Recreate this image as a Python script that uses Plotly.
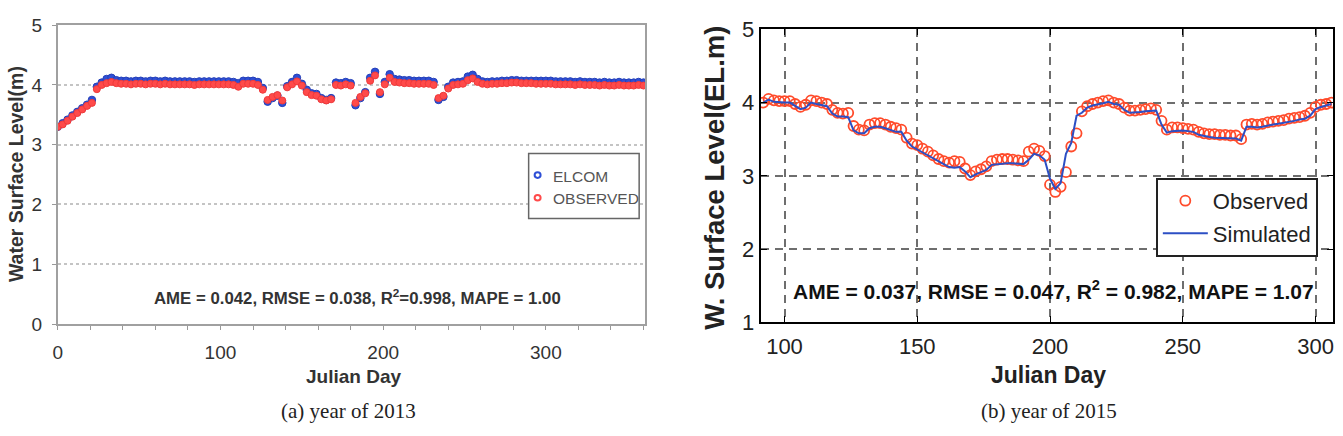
import plotly.graph_objects as go

# ---------------- data: (a) 2013 ----------------
days_2013 = list(range(0, 361, 3))
elcom_2013 = [
    3.30, 3.36, 3.42, 3.49, 3.55, 3.61, 3.67, 3.75, 3.97, 4.04,
    4.10, 4.12, 4.08, 4.07, 4.07, 4.06, 4.07, 4.07, 4.06, 4.07,
    4.07, 4.06, 4.07, 4.06, 4.06, 4.06, 4.06, 4.06, 4.05, 4.06,
    4.06, 4.06, 4.06, 4.06, 4.06, 4.06, 4.05, 4.03, 4.07, 4.07,
    4.07, 4.05, 3.95, 3.72, 3.78, 3.82, 3.70, 3.98, 4.05, 4.12,
    4.02, 3.92, 3.86, 3.85, 3.78, 3.75, 3.78, 4.04, 4.03, 4.05,
    4.03, 3.66, 3.78, 3.88, 4.12, 4.22, 3.85, 4.05, 4.18, 4.10,
    4.09, 4.08, 4.08, 4.07, 4.07, 4.07, 4.07, 4.05, 3.75, 3.80,
    3.97, 4.04, 4.05, 4.06, 4.14, 4.17, 4.10, 4.06, 4.05, 4.06,
    4.06, 4.07, 4.07, 4.08, 4.08, 4.07, 4.07, 4.07, 4.07, 4.07,
    4.07, 4.07, 4.06, 4.06, 4.06, 4.06, 4.05, 4.06, 4.05, 4.05,
    4.05, 4.04, 4.05, 4.04, 4.04, 4.05, 4.04, 4.04, 4.04, 4.05,
    4.04,
]
observed_2013 = [
    3.30, 3.34, 3.40, 3.47, 3.53, 3.59, 3.65, 3.70, 3.93, 4.00,
    4.03, 4.05, 4.03, 4.02, 4.02, 4.01, 4.02, 4.02, 4.01, 4.02,
    4.02, 4.01, 4.02, 4.01, 4.01, 4.01, 4.01, 4.01, 4.00, 4.01,
    4.01, 4.01, 4.01, 4.01, 4.01, 4.01, 4.00, 3.97, 4.02, 4.02,
    4.02, 4.00, 3.92, 3.75, 3.80, 3.83, 3.74, 3.96, 4.01, 4.06,
    3.99, 3.88, 3.83, 3.82, 3.76, 3.74, 3.76, 4.00, 3.99, 4.01,
    3.99, 3.70, 3.80, 3.86, 4.07, 4.16, 3.88, 4.01, 4.12, 4.05,
    4.04, 4.03, 4.03, 4.02, 4.02, 4.02, 4.02, 4.00, 3.78, 3.82,
    3.94, 4.00, 4.01, 4.02, 4.08, 4.11, 4.05, 4.02, 4.01, 4.02,
    4.02, 4.03, 4.03, 4.04, 4.04, 4.03, 4.03, 4.03, 4.02, 4.02,
    4.02, 4.02, 4.01, 4.01, 4.01, 4.01, 4.00, 4.01, 4.00, 4.00,
    4.00, 3.99, 4.00, 3.99, 3.99, 4.00, 3.99, 3.99, 3.99, 4.00,
    3.99,
]

# ---------------- data: (b) 2015 ----------------
days_2015 = list(range(92, 307, 2))
simulated_2015 = [
    4.00, 4.04, 4.01, 4.00, 4.00, 4.00, 3.95, 3.91, 3.93, 4.00,
    3.98, 3.96, 3.95, 3.85, 3.81, 3.81, 3.80, 3.62, 3.58, 3.58,
    3.65, 3.67, 3.67, 3.65, 3.62, 3.60, 3.60, 3.48, 3.40, 3.36,
    3.32, 3.28, 3.23, 3.19, 3.15, 3.12, 3.11, 3.12, 3.06, 2.98,
    3.02, 3.05, 3.08, 3.15, 3.16, 3.17, 3.17, 3.17, 3.17, 3.16,
    3.22, 3.30, 3.28, 3.22, 2.96, 2.82, 2.90, 3.30, 3.45, 3.82,
    3.86, 3.93, 3.96, 3.97, 3.99, 4.01, 3.98, 3.97, 3.90, 3.86,
    3.86, 3.87, 3.88, 3.89, 3.89, 3.70, 3.59, 3.61, 3.62, 3.62,
    3.61, 3.60, 3.56, 3.54, 3.53, 3.52, 3.52, 3.52, 3.52, 3.51,
    3.48, 3.67, 3.67, 3.66, 3.67, 3.69, 3.70, 3.71, 3.72, 3.74,
    3.75, 3.77, 3.78, 3.82, 3.91, 3.94, 3.96, 3.98,
]
observed_2015 = [
    4.00, 4.05, 4.03, 4.02, 4.02, 4.02, 3.98, 3.94, 3.97, 4.03,
    4.02, 4.00, 3.98, 3.90, 3.86, 3.85, 3.86, 3.68, 3.63, 3.62,
    3.70, 3.72, 3.72, 3.70, 3.67, 3.65, 3.63, 3.52, 3.44, 3.42,
    3.37, 3.33, 3.28, 3.23, 3.20, 3.18, 3.20, 3.19, 3.10, 3.01,
    3.06, 3.09, 3.13, 3.20, 3.22, 3.23, 3.23, 3.22, 3.21, 3.20,
    3.33, 3.37, 3.34, 3.27, 2.88, 2.78, 2.85, 3.05, 3.40, 3.58,
    3.88, 3.95, 3.98, 4.00, 4.02, 4.03, 4.00, 3.98, 3.93, 3.89,
    3.89, 3.90, 3.91, 3.92, 3.90, 3.75, 3.63, 3.66, 3.66, 3.65,
    3.64, 3.63, 3.60, 3.58, 3.57, 3.57, 3.56, 3.56, 3.55, 3.55,
    3.50, 3.70, 3.71, 3.70, 3.71, 3.73, 3.74, 3.75, 3.76, 3.78,
    3.79, 3.80, 3.82, 3.86, 3.94, 3.97, 3.98, 4.00,
]

W, H = 1343, 436
def px(x):
    return x / W
def py(y):
    return (H - y) / H

SANS = "Liberation Sans, Arial, sans-serif"
SERIF = "Liberation Serif, Times New Roman, serif"
BLUE_A = "#2e4fd6"
RED_A = "#ff4a4a"

fig = go.Figure()

# (a) traces
fig.add_trace(go.Scatter(
    x=days_2013, y=elcom_2013, mode="markers", name="ELCOM", showlegend=False,
    marker=dict(symbol="circle", size=7.5, color=BLUE_A, line=dict(width=1, color="#2540b8")),
    xaxis="x", yaxis="y",
))
fig.add_trace(go.Scatter(
    x=days_2013, y=observed_2013, mode="markers", name="OBSERVED", showlegend=False,
    marker=dict(symbol="circle", size=7, color=RED_A, line=dict(width=1, color="#f03a3a")),
    xaxis="x", yaxis="y",
))

# (b) traces
fig.add_trace(go.Scatter(
    x=days_2015, y=observed_2015, mode="markers", name="Observed",
    marker=dict(symbol="circle-open", size=10, color="#ff4b2b", line=dict(width=1.8, color="#ff4b2b")),
    xaxis="x2", yaxis="y2", legend="legend2", legendgroup="c",
))
fig.add_trace(go.Scatter(
    x=days_2015, y=simulated_2015, mode="lines", name="Simulated",
    line=dict(color="#2c4fc4", width=2),
    xaxis="x2", yaxis="y2", legend="legend2", legendgroup="d",
))

fig.update_layout(
    width=W, height=H,
    margin=dict(l=0, r=0, t=0, b=0),
    paper_bgcolor="white", plot_bgcolor="white",
    xaxis=dict(
        domain=[px(53), px(643)], range=[0, 361], anchor="y",
        tickvals=[0, 100, 200, 300], ticks="outside", ticklen=4, tickcolor="#999",
        minor=dict(dtick=20, ticks="outside", ticklen=4, tickcolor="#999"),
        showline=True, linecolor="#a0a0a0", linewidth=2, mirror=True,
        showgrid=False, zeroline=False, ticklabelstandoff=6,
        tickfont=dict(family=SANS, size=19, color="#333"),
    ),
    yaxis=dict(
        domain=[py(331), py(14)], range=[0, 5], anchor="x",
        tickvals=[0, 1, 2, 3, 4, 5], ticks="outside", ticklen=4, tickcolor="#999",
        showline=True, linecolor="#a0a0a0", linewidth=2, mirror=True,
        showgrid=True, gridcolor="#c4c4c4", griddash="dot", gridwidth=1.5,
        zeroline=False, ticklabelstandoff=6,
        tickfont=dict(family=SANS, size=19, color="#333"),
    ),
    xaxis2=dict(
        domain=[px(759), px(1334)], range=[91, 306.6], anchor="y2",
        tickvals=[100, 150, 200, 250, 300], ticks="inside", ticklen=6, tickcolor="black",
        showline=True, linecolor="black", linewidth=2, mirror="allticks",
        showgrid=True, gridcolor="#6e6e6e", griddash="8px,6px", gridwidth=1.5,
        zeroline=False, ticklabelstandoff=3,
        tickfont=dict(family=SANS, size=22, color="#222"),
    ),
    yaxis2=dict(
        domain=[py(329.3), py(18.3)], range=[1, 5], anchor="x2",
        tickvals=[1, 2, 3, 4, 5], ticks="inside", ticklen=6, tickcolor="black",
        showline=True, linecolor="black", linewidth=2, mirror="allticks",
        showgrid=True, gridcolor="#6e6e6e", griddash="8px,6px", gridwidth=1.5,
        zeroline=False,
        tickfont=dict(family=SANS, size=22, color="#222"),
    ),
    legend2=dict(
        x=px(1156), y=py(176), xanchor="left", yanchor="top",
        bgcolor="white", bordercolor="#222", borderwidth=2,
        font=dict(family=SANS, size=22, color="#222"),
        tracegroupgap=1, itemwidth=45,
    ),
)

# manual legend box for (a)
shapes = [
    dict(type="rect", xref="paper", yref="paper",
         x0=px(526), x1=px(637), y0=py(219), y1=py(150),
         line=dict(color="#666", width=1.5), fillcolor="white", layer="above"),
    dict(type="circle", xref="paper", yref="paper",
         x0=px(532), x1=px(538), y0=py(176), y1=py(170),
         line=dict(color=BLUE_A, width=2), layer="above"),
    dict(type="circle", xref="paper", yref="paper",
         x0=px(532), x1=px(538), y0=py(200), y1=py(194),
         line=dict(color=RED_A, width=2), layer="above"),
]
fig.update_layout(shapes=shapes)

annotations = [
    # (a) legend texts
    dict(text="ELCOM", x=px(548), y=py(174), xanchor="left",
         font=dict(family=SANS, size=15.5, color="#555")),
    dict(text="OBSERVED", x=px(548), y=py(198), xanchor="left",
         font=dict(family=SANS, size=15.5, color="#555")),
    # (a) axis titles & stats
    dict(text="<b>Water Surface Level(m)</b>", x=px(11), y=py(172), textangle=-90,
         font=dict(family=SANS, size=19.5, color="#333")),
    dict(text="<b>Julian Day</b>", x=px(350), y=py(387),
         font=dict(family=SANS, size=19, color="#333")),
    dict(text="<b>AME = 0.042, RMSE = 0.038, R<sup>2</sup>=0.998, MAPE = 1.00</b>",
         x=px(354), y=py(302), font=dict(family=SANS, size=16.8, color="#333")),
    dict(text="(a) year of 2013", x=px(345), y=py(423),
         font=dict(family=SERIF, size=21, color="#222")),
    # (b)
    dict(text="<b>W. Surface Level(EL.m)</b>", x=px(713), y=py(176), textangle=-90,
         font=dict(family=SANS, size=27.5, color="#222")),
    dict(text="<b>Julian Day</b>", x=px(1048), y=py(385),
         font=dict(family=SANS, size=23, color="#222")),
    dict(text="<b>AME = 0.037, RMSE = 0.047, R<sup>2</sup> = 0.982, MAPE = 1.07</b>",
         x=px(1053), y=py(295), font=dict(family=SANS, size=21, color="#111")),
    dict(text="(b) year of 2015", x=px(1049), y=py(423),
         font=dict(family=SERIF, size=21, color="#222")),
]
for a in annotations:
    a.setdefault("xanchor", "center")
    a.update(xref="paper", yref="paper", showarrow=False, yanchor="middle")
fig.update_layout(annotations=annotations)

fig.write_html("out.html")
